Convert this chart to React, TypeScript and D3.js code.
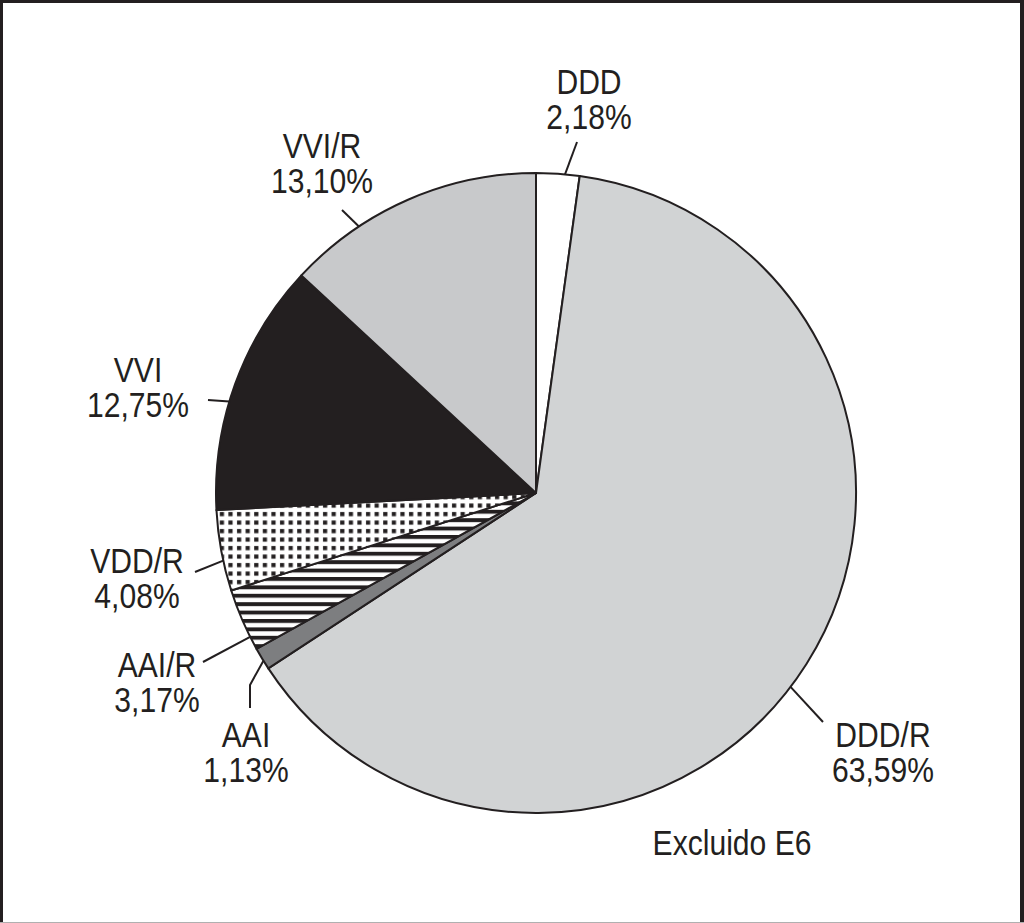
import React from "react";
import * as d3 from "d3";

const categories = ["DDD", "DDD/R", "AAI", "AAI/R", "VDD/R", "VVI", "VVI/R"];
const values = [2.18, 63.59, 1.13, 3.17, 4.08, 12.75, 13.10];
const valueLabels = ["2,18%", "63,59%", "1,13%", "3,17%", "4,08%", "12,75%", "13,10%"];
const fills = ["#ffffff", "#d1d3d4", "#7d7e80", "url(#stripes)", "url(#dots)", "#231f20", "#c8c9cb"];
const note = "Excluido E6";

// label layout: text center, first baseline, leader start angle (deg on rim), leader path after rim
const labelLayout = [
  { x: 589, y: 94, angle: 5.2, path: [[577, 142]] },
  { x: 883, y: 747, angle: 127.3, path: [[823, 722]] },
  { x: 246, y: 747, angle: 238.4, path: [[250, 685], [250, 708]] },
  { x: 157, y: 677, angle: 243.3, path: [[203, 662]] },
  { x: 137, y: 573, angle: 257.8, path: [[195, 572]] },
  { x: 138, y: 382, angle: 286.6, path: [[208, 400]] },
  { x: 322, y: 158, angle: 326.4, path: [[342, 210]] },
];

const W = 1024;
const H = 923;
const cx = 536;
const cy = 493;
const R = 320;
const font = "'Liberation Sans', Arial, Helvetica, sans-serif";
const fontSize = 35;
const lineGap = 35;
const squeeze = 0.86;

function Label({ x, y, text }: { x: number; y: number; text: string }) {
  return (
    <text
      transform={`translate(${x},${y}) scale(${squeeze},1)`}
      textAnchor="middle"
      fontFamily={font}
      fontSize={fontSize}
      fill="#231f20"
    >
      {text}
    </text>
  );
}

export default function App() {
  const data = categories.map((c, i) => ({ c, v: values[i], i }));
  const pie = d3.pie<any>().sort(null).value((d) => d.v).startAngle(0).endAngle(2 * Math.PI);
  const arcs = pie(data);
  const arc = d3.arc<any>().innerRadius(0).outerRadius(R);
  const rim = (deg: number) => {
    const a = (deg * Math.PI) / 180;
    return [cx + R * Math.sin(a), cy - R * Math.cos(a)];
  };
  return (
    <svg width={W} height={H} style={{ position: "absolute", left: 0, top: 0, background: "#fff" }}>
      <defs>
        <pattern id="stripes" patternUnits="userSpaceOnUse" width={12} height={8.4}>
          <rect width={12} height={8.4} fill="#fff" />
          <rect y={0} width={12} height={3.9} fill="#231f20" />
        </pattern>
        <pattern id="dots" patternUnits="userSpaceOnUse" width={8.6} height={8.5}>
          <rect width={8.6} height={8.5} fill="#fff" />
          <rect x={2} y={2} width={4.2} height={4.2} fill="#231f20" />
        </pattern>
      </defs>
      <rect x={0} y={0} width={W} height={H} fill="#fff" />
      <line x1={1.5} y1={0} x2={1.5} y2={H} stroke="#231f20" strokeWidth={3} />
      <line x1={0} y1={1.5} x2={W} y2={1.5} stroke="#231f20" strokeWidth={3} />
      <line x1={W - 2} y1={0} x2={W - 2} y2={H} stroke="#231f20" strokeWidth={4} />
      <line x1={0} y1={H - 0.5} x2={W} y2={H - 0.5} stroke="#b0b0b0" strokeWidth={1} />
      <g transform={`translate(${cx},${cy})`}>
        {arcs.map((a, i) => (
          <path key={i} d={arc(a) as string} fill={fills[i]} stroke="#231f20" strokeWidth={2} strokeLinejoin="round" />
        ))}
      </g>
      {labelLayout.map((l, i) => {
        const start = rim(l.angle);
        const pts = [start, ...l.path];
        return (
          <g key={i}>
            <path d={d3.line()(pts as [number, number][]) as string} fill="none" stroke="#231f20" strokeWidth={2} />
            <Label x={l.x} y={l.y} text={categories[i]} />
            <Label x={l.x} y={l.y + lineGap} text={valueLabels[i]} />
          </g>
        );
      })}
      <Label x={732} y={855} text={note} />
    </svg>
  );
}
